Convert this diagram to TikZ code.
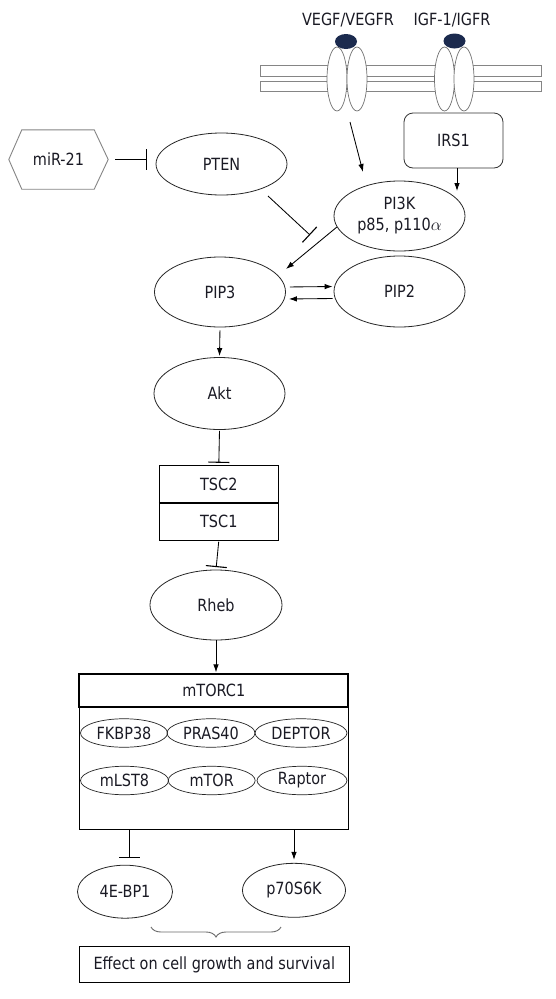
\documentclass[tikz,border=0pt]{standalone}
\usepackage{fontspec}
\setmainfont{DejaVu Sans}[FakeStretch=0.86]
\usetikzlibrary{shapes.geometric,arrows.meta,calc,decorations.pathreplacing}
\definecolor{txt}{HTML}{1A1A24}
\definecolor{navy}{HTML}{1B2A4E}
\definecolor{memb}{HTML}{858585}
\tikzset{
  ell/.style={ellipse, draw=black!85, line width=0.8pt, inner sep=0pt, text=txt},
  sell/.style={ellipse, draw=black!85, line width=0.7pt, inner sep=0pt, minimum width=88pt, minimum height=28.5pt, text=txt},
  recep/.style={ellipse, draw=memb!85!black, fill=white, line width=0.7pt, minimum width=20pt, minimum height=64pt, inner sep=0pt},
  blob/.style={ellipse, fill=navy, minimum width=22pt, minimum height=15pt, inner sep=0pt},
  boxn/.style={draw=black, line width=0.9pt, inner sep=0pt, text=txt},
  lbl/.style={text=txt, inner sep=0pt},
  arr/.style={-{Latex[length=8pt,width=5.5pt]}, line width=0.85pt},
  inh/.style={-{Bar[width=21pt,line width=1.1pt]}, line width=0.85pt},
}
\begin{document}
\begin{tikzpicture}[x=1pt,y=-1pt, every node/.style={font=\fontsize{16.8}{21}\selectfont}]
\fill[white] (0,0) rectangle (556,999);
\useasboundingbox (0,0) rectangle (556,999);

% membrane
\draw[memb, line width=0.8pt] (260,65.7) rectangle (541,76);
\draw[memb, line width=0.8pt] (260,81) rectangle (541,91);

% receptors
\node[recep] (v1) at (337,79) {};
\node[recep] (v2) at (357,79) {};
\node[blob] (vb) at (346,41.5) {};
\node[recep] (g1) at (444.5,79) {};
\node[recep] (g2) at (464,79) {};
\node[blob] (gb) at (454.5,41) {};
\node[lbl] (vlab) at (348,20) {VEGF/VEGFR};
\node[lbl] (glab) at (452,20) {IGF-1/IGFR};

% IRS1
\node[draw=black!80, line width=0.8pt, rounded corners=9pt, minimum width=99pt, minimum height=55pt, text=txt] (irs) at (453.5,140.5) {IRS1};

% miR-21 hexagon
\node[lbl, minimum width=99pt, minimum height=59pt] (mir) at (58.5,159.5) {miR-21};
\draw[memb, line width=0.9pt] (mir.west) -- ($(mir.north west)+(13,0)$) -- ($(mir.north east)+(-14,0)$) -- (mir.east) -- ($(mir.south east)+(-14,0)$) -- ($(mir.south west)+(13,0)$) -- cycle;

% ellipses
\node[ell, minimum width=131pt, minimum height=62pt] (pten) at (221.5,164) {PTEN};
\node[ell, minimum width=131pt, minimum height=70pt, align=center] (pi3k) at (399.5,216) {PI3K\\p85, p110$\alpha$};
\node[ell, minimum width=131pt, minimum height=70pt] (pip3) at (220,292) {PIP3};
\node[ell, minimum width=131pt, minimum height=71pt] (pip2) at (399.5,291.5) {PIP2};
\node[ell, minimum width=131pt, minimum height=72pt] (akt) at (219.5,393.5) {Akt};

% TSC
\node[boxn, minimum width=119pt, minimum height=37.5pt] (tsc2) at (218.8,484) {TSC2};
\node[boxn, minimum width=119pt, minimum height=37.5pt] (tsc1) at (218.8,521.5) {TSC1};
\draw[line width=1.8pt] (tsc2.south west) -- (tsc2.south east);

\node[ell, minimum width=132pt, minimum height=70pt] (rheb) at (216,605) {Rheb};

% mTORC1
\node[boxn, line width=1.1pt, minimum width=269pt, minimum height=154.7pt] (mbox) at (213.8,751.7) {};
\node[boxn, line width=1.9pt, minimum width=269pt, minimum height=33pt] (mhead) at (213.8,690.8) {mTORC1};
\node[sell, minimum width=87pt] (fkbp) at (124,733) {FKBP38};
\node[sell] (pras) at (211,733) {PRAS40};
\node[sell, minimum width=92pt] (dept) at (301,733) {DEPTOR};
\node[sell, minimum width=88pt] (mlst) at (124.5,780.5) {mLST8};
\node[sell, minimum width=87pt] (mtor) at (211.7,780.5) {mTOR};
\node[sell, minimum width=90pt] (rapt) at (302,780.5) {Raptor};

\node[ell, minimum width=95pt, minimum height=53pt] (bp1) at (125,891.7) {4E-BP1};
\node[ell, minimum width=103pt, minimum height=54pt] (p70) at (294,890.3) {p70S6K};

\node[boxn, minimum width=270pt, minimum height=35.6pt] (eff) at (214.3,964.5) {Effect on cell growth and survival};

% free-end coordinates
\coordinate (vA) at (350,122);
\coordinate (vB) at (363,172);
\coordinate (irsin) at (457,191);
\coordinate (ptA) at (268,196);
\coordinate (ptB) at (310,235);
\coordinate (kB) at (286,269);
\coordinate (bl) at (151,927);
\coordinate (br) at (281,927);

% connectors
\draw[arr] (vA) -- (vB);
\draw[arr] (irs.south -| irsin) -- (irsin);
\draw[inh, shorten <=7pt, shorten >=9pt] (mir.east) -- (mir.east -| pten.west);
\draw[inh] (ptA) -- (ptB);
\draw[arr] (pi3k.190) -- (kB);
\draw[arr, shorten <=4pt, shorten >=1pt] ([yshift=5pt]pip3.east) -- ([yshift=5pt]pip2.west);
\draw[arr, shorten <=1pt, shorten >=3pt] ([yshift=-7pt]pip2.west) -- ([yshift=-7pt]pip3.east);
\draw[arr, shorten <=3pt, shorten >=1pt] (pip3.south) -- (akt.north);
\draw[inh, shorten <=1pt, shorten >=2pt] (akt.south) -- (tsc2.north);
\draw[inh, shorten <=1pt, shorten >=2.5pt] (tsc1.south) -- (rheb.north);
\draw[arr, shorten >=1pt] (rheb.south) -- (mhead.north -| rheb.south);
\draw[inh, shorten >=7pt] ([xshift=4pt]mbox.south -| bp1.north) -- ([xshift=4pt]bp1.north);
\draw[arr, shorten >=3pt] (mbox.south -| p70.north) -- (p70.north);

% brace
\draw[memb!80!black, line width=0.9pt, decorate, decoration={brace, mirror, amplitude=10pt}] (bl) -- (br);
\end{tikzpicture}
\end{document}
